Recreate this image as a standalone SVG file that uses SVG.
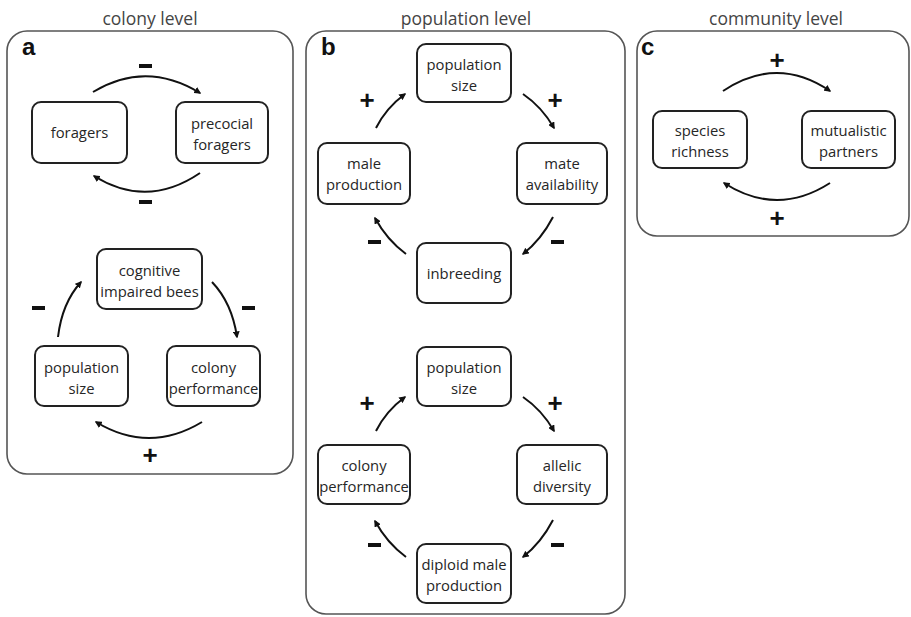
<svg xmlns="http://www.w3.org/2000/svg" width="911" height="617" viewBox="0 0 911 617">
<defs>
<marker id="ah" viewBox="0 0 10 10" refX="8" refY="5" markerWidth="7" markerHeight="7" markerUnits="userSpaceOnUse" orient="auto">
<path d="M0,0 L10,5 L0,10 z" fill="#111"/>
</marker>
</defs>
<style>
.frame{fill:#fff;stroke:#555;stroke-width:1.6}
.box{fill:#fff;stroke:#222;stroke-width:2}
.t{font-family:"Open Sans","Noto Sans",sans-serif;font-size:14.8px;fill:#262626;text-anchor:middle}
.title{font-family:"Open Sans","Noto Sans",sans-serif;font-size:17.5px;fill:#444;text-anchor:middle}
.lab{font-family:"Liberation Sans",Arial,sans-serif;font-size:24px;font-weight:bold;fill:#111}
.sign{font-family:"Liberation Sans",Arial,sans-serif;font-size:26px;font-weight:bold;fill:#111;text-anchor:middle}
.arc{fill:none;stroke:#111;stroke-width:2;marker-end:url(#ah)}
</style>
<rect width="911" height="617" fill="#fff"/>

<g id="panels">
<text class="title" x="150" y="25">colony level</text>
<text class="title" x="466" y="25">population level</text>
<text class="title" x="776" y="25">community level</text>
<rect class="frame" x="7" y="31" width="286" height="443" rx="20"/>
<rect class="frame" x="306" y="31" width="319" height="583" rx="20"/>
<rect class="frame" x="637" y="31" width="272" height="205" rx="20"/>
<text class="lab" x="22" y="55">a</text>
<text class="lab" x="321" y="55">b</text>
<text class="lab" x="641" y="55">c</text>
</g>

<g id="n-foragers"><rect class="box" x="32" y="102" width="95" height="61" rx="9"/><text class="t" x="79.5" y="138">foragers</text></g>
<g id="n-precocial"><rect class="box" x="176" y="102" width="92" height="61" rx="9"/><text class="t" x="222" y="129">precocial</text><text class="t" x="222" y="150">foragers</text></g>
<g id="n-cognitive"><rect class="box" x="97" y="249" width="105" height="60" rx="9"/><text class="t" x="149.5" y="276">cognitive</text><text class="t" x="149.5" y="297">impaired bees</text></g>
<g id="n-popsize-a"><rect class="box" x="35" y="346" width="93" height="60" rx="9"/><text class="t" x="81.5" y="373">population</text><text class="t" x="81.5" y="394">size</text></g>
<g id="n-colperf-a"><rect class="box" x="167" y="346" width="93" height="60" rx="9"/><text class="t" x="213.5" y="373">colony</text><text class="t" x="213.5" y="394">performance</text></g>

<g id="n-popsize-b1"><rect class="box" x="417" y="44" width="94" height="58" rx="9"/><text class="t" x="464" y="70">population</text><text class="t" x="464" y="91">size</text></g>
<g id="n-male"><rect class="box" x="318" y="143" width="92" height="61" rx="9"/><text class="t" x="364" y="169">male</text><text class="t" x="364" y="190">production</text></g>
<g id="n-mate"><rect class="box" x="517" y="143" width="90" height="61" rx="9"/><text class="t" x="562" y="169">mate</text><text class="t" x="562" y="190">availability</text></g>
<g id="n-inbreeding"><rect class="box" x="417" y="243" width="94" height="60" rx="9"/><text class="t" x="464" y="279">inbreeding</text></g>

<g id="n-popsize-b2"><rect class="box" x="417" y="347" width="94" height="59" rx="9"/><text class="t" x="464" y="373">population</text><text class="t" x="464" y="394">size</text></g>
<g id="n-colperf-b"><rect class="box" x="318" y="445" width="92" height="59" rx="9"/><text class="t" x="364" y="471">colony</text><text class="t" x="364" y="492">performance</text></g>
<g id="n-allelic"><rect class="box" x="517" y="445" width="90" height="59" rx="9"/><text class="t" x="562" y="471">allelic</text><text class="t" x="562" y="492">diversity</text></g>
<g id="n-diploid"><rect class="box" x="417" y="544" width="94" height="59" rx="9"/><text class="t" x="464" y="570">diploid male</text><text class="t" x="464" y="591">production</text></g>

<g id="n-species"><rect class="box" x="653" y="111" width="94" height="57" rx="9"/><text class="t" x="700" y="136">species</text><text class="t" x="700" y="157">richness</text></g>
<g id="n-mutual"><rect class="box" x="802" y="111" width="93" height="57" rx="9"/><text class="t" x="848.5" y="136">mutualistic</text><text class="t" x="848.5" y="157">partners</text></g>

<g id="connectors">
<path class="arc" d="M93,92 Q146,60 200,93"/>
<path class="arc" d="M200,173 Q147,209 94,176"/>
<path class="arc" d="M58,337 Q62,303 81,282"/>
<path class="arc" d="M212,282 Q232,303 237,337"/>
<path class="arc" d="M202,422 Q149,454 96,422"/>

<path class="arc" d="M376,128 Q386,108 405,94"/>
<path class="arc" d="M523,94 Q542,107 554,128"/>
<path class="arc" d="M553,217 Q541,240 523,254"/>
<path class="arc" d="M406,254 Q387,240 375,218"/>

<path class="arc" d="M376,431 Q386,411 405,397"/>
<path class="arc" d="M523,397 Q542,410 554,431"/>
<path class="arc" d="M553,520 Q541,543 523,557"/>
<path class="arc" d="M406,557 Q387,543 375,521"/>

<path class="arc" d="M723,91 Q777,55 830,91"/>
<path class="arc" d="M830,183 Q777,217 724,183"/>

<g id="signs">
<rect x="139" y="64" width="13" height="4" fill="#111"/>
<rect x="139" y="200" width="13" height="4" fill="#111"/>
<rect x="32" y="306" width="13" height="4" fill="#111"/>
<rect x="242" y="306" width="13" height="4" fill="#111"/>
<text class="sign" x="150" y="464">+</text>
<text class="sign" x="367" y="109">+</text>
<text class="sign" x="555" y="109">+</text>
<rect x="551" y="240" width="13" height="4" fill="#111"/>
<rect x="368" y="240" width="13" height="4" fill="#111"/>
<text class="sign" x="367" y="412">+</text>
<text class="sign" x="555" y="412">+</text>
<rect x="551" y="543" width="13" height="4" fill="#111"/>
<rect x="368" y="543" width="13" height="4" fill="#111"/>
<text class="sign" x="777" y="69">+</text>
<text class="sign" x="777" y="227">+</text>
</g>
</g>
</svg>
